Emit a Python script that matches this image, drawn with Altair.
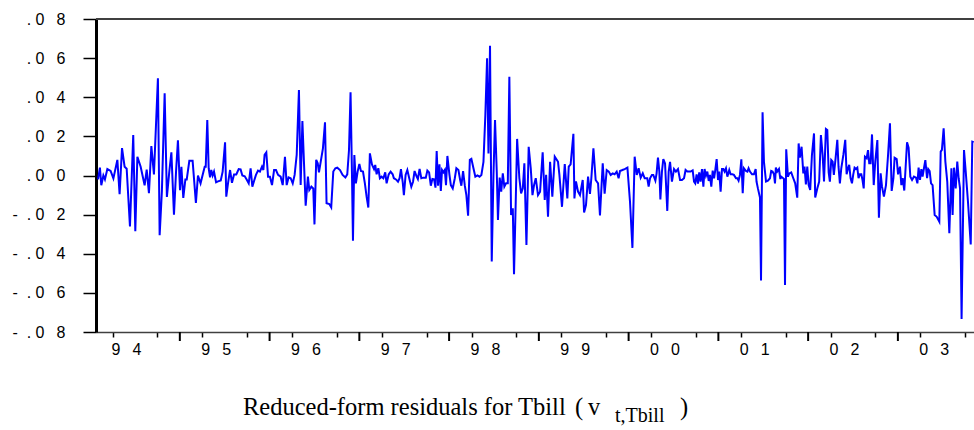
import altair as alt
import pandas as pd

NB = "\u00a0"   # non-breaking space (keeps the wide letter spacing of the original labels)
TH = "\u2009"   # thin space
GAP = NB * 2 + TH

# ---- data: observation position (weeks since first obs) and residual (in units of 0.01) ----
weeks_a = [0.6, 1.7, 2.5, 3.7, 4.6, 6.0, 7.9, 9.5, 11.8, 13.1, 14.5, 16.0, 17.2, 19.1, 21.0,
           22.2, 23.4, 25.3, 27.6, 28.8, 30.1, 31.5, 33.0, 35.3, 36.3, 37.6, 39.2, 40.5, 41.9,
           43.1, 44.6, 45.8, 46.9, 48.1, 48.9, 50.0, 51.2, 52.0, 53.5, 55.4, 57.3, 58.5, 60.0, 62.4]
resid_a = [-0.2, 0.4, -0.5, 0, -0.2, 0.33, 0.23, -0.15, 0.8, -0.95, 1.4, 0.45, 0.35, -2.6, 2.07,
           -2.85, 0.96, 0.45, -0.5, 0.3, -0.9, 1.5, 0.05, 4.97, -3.05, -0.8, 4.2, -1.1, 0.2,
           1.18, -2.0, 0.2, 1.8, -0.75, 0.45, -1.15, -0.2, -0.2, 0.75, 0.75, -1.4, 0, -0.4, 0.45]

weeks_b = [63.0, 63.9, 64.7, 65.5, 66.2, 67.0, 67.8, 69.0, 70.1, 71.7, 72.8, 74.2, 74.9, 75.9, 77.1,
           78.2, 79.4, 80.7, 82.1, 83.2, 84.2, 85.6, 86.7, 87.9, 89.0, 90.0, 91.0, 92.1, 93.3, 94.4,
           95.6, 96.4, 97.1, 98.1, 99.1, 100.2, 101.4, 102.6, 103.7, 104.9, 106.4, 107.6, 108.9,
           109.9, 111.0, 112.2, 113.4, 114.5, 115.7, 117.0, 118.0, 119.0, 119.9, 120.9, 122.2,
           123.0, 124.2, 125.3, 126.0]
resid_b = [0.45, 2.84, 0.37, -0.1, 0.28, 0.0, 0.2, -0.35, -0.3, -0.25, 0.2, 1.7, -1.08, -0.4, 0.28,
           -0.37, 0.05, 0.05, 0.33, 0.31, 0.0, -0.04, -0.2, -0.4, 0.37, -0.57, -0.28, 0.03, 0.25, 0.2,
           0.45, 0.28, 1.05, 1.18, -0.06, -0.06, -0.49, 0.28, 0.28, 0.03, -0.06, -0.49, 0.96,
           -0.49, -0.1, -0.14, -0.4, 0.03, 1.05, 4.37, -0.49, 2.78, 0.7, -1.54, -0.06,
           -0.74, -0.57, -0.66, -2.5]

weeks_c = [127.0, 127.9, 128.6, 129.6, 130.9, 132.1, 133.0, 134.6, 135.7, 136.9, 138.1, 139.2,
           140.8, 142.3, 143.9, 145.0, 146.0, 146.9, 147.7, 148.3, 149.1, 150.0, 151.0, 152.0,
           152.9, 154.1, 155.2, 156.2, 157.2, 158.1, 159.3, 160.5, 161.2, 162.0, 163.0, 163.9,
           164.9, 165.9, 167.0, 167.8, 169.0, 170.1, 171.3, 172.0, 173.2, 174.4, 175.3, 176.1,
           177.1, 177.8, 178.8, 179.8, 180.9, 182.1, 183.1, 184.0, 185.2, 185.9, 186.9, 187.9, 189.0]
resid_c = [0.8, 0.62, 0.16, 0.7, 1.39, 2.72, -1.42, -1.46, -1.63, 0.2, 0.37, 0.4,
           0.28, 0.03, -0.1, 0.06, 1.3, 4.25, 0.2, -3.33, 1.05, -0.4, 0.2, 0.59,
           0.23, 0.2, -0.4, -1.08, -1.64, 1.13, 0.57, 0.33, 0.54, 0.06, 0.37, -0.14,
           -0.06, -0.14, 0.16, -0.4, 0.06, 0.2, 0.06, -0.14, -0.2, -0.32, -0.14, 0.33,
           -0.32, -1.0, 0.03, 0.28, -0.14, -0.57, -0.32, 0.23, -0.06, -0.18, 0.33, -0.14, -0.11]

weeks_d = [190.5, 191.4, 192.4, 193.4, 194.3, 195.3, 196.1, 196.8, 197.6, 198.4, 199.2, 199.9,
           200.7, 201.5, 202.2, 203.0, 204.2, 205.0, 206.1, 207.3, 208.2, 209.4, 210.4, 211.1,
           212.1, 213.1, 214.0, 215.0, 216.0, 216.9, 218.1, 219.2, 220.4, 221.6, 222.7, 223.9,
           225.0, 226.0, 226.8, 227.7, 228.7, 229.7, 230.6, 231.6, 232.3, 233.3, 234.2, 235.1,
           236.0, 237.0, 238.0, 238.9, 239.9, 240.9, 241.6, 242.6, 243.4, 244.7, 245.7, 246.7,
           247.6, 248.8, 250.1, 251.3, 252.3, 253.2]
resid_d = [-0.11, 0.25, 0.16, -0.52, -0.18, -0.2, -0.62, 1.25, -0.52, 0.57, -0.79, 0.28,
           0.16, 0.28, -0.49, 1.0, 0.03, -0.49, -0.66, -0.14, 0.37, 0.28, -0.23, -0.52,
           0.23, -0.52, -1.0, -2.05, 0.8, 0.85, 0.37, -0.06, 0.0, -0.06, 0.03, 0.7,
           3.1, 5.99, 1.13, 6.63, -4.4, 0.03, 2.84, 0.2, -2.27, -0.11, -0.83, 0.11,
           -0.57, -0.4, -0.4, 5.05, -2.02, -1.68, -5.05, -1.34, 1.87, -0.14, -0.91, -0.66,
           0.62, -3.55, 1.47, 0.37, -1.0, -0.49]

weeks_e = [254.2, 255.5, 256.7, 258.2, 259.4, 260.2, 261.3, 262.5, 263.8, 265.2, 267.1, 267.9,
           269.4, 271.0, 272.5, 273.3, 274.4, 276.0, 276.6, 277.5, 278.7, 279.8, 281.4, 282.2,
           283.3, 284.5, 285.6, 286.4, 287.6, 288.9, 290.3, 291.4, 293.0, 294.1, 295.3, 296.5,
           297.6, 298.8, 299.9, 301.1, 302.2, 303.0, 304.4, 305.7, 307.3, 308.8, 310.2, 311.5,
           312.7, 313.8, 315.0, 316.2, 317.3]
resid_e = [-0.14, -1.0, -0.83, 1.18, -1.25, 0.03, -2.11, 0.7, -1.08, 0.96, 0.7, 0.03,
           -1.6, 0.59, -1.17, 0.45, 0.57, 2.13, -1.17, -0.3, -0.83, -1.0, -0.23, -1.89,
           -1.51, -0.06, -0.94, -0.14, 1.39, -0.23, -0.4, -2.04, 0.62, -0.93, 0.28, 0.2,
           0.03, 0.11, 0.06, 0.2, -0.14, 0.23, 0.28, 0.33, 0.4, -1.34, -3.7, 0.96,
           0.03, 0.37, -0.11, 0.11, -0.14]

weeks_f = [318.8, 319.6, 320.4, 321.5, 322.3, 323.5, 324.2, 325.0, 325.8, 326.4, 327.3, 328.1,
           329.1, 330.4, 331.2, 332.0, 333.1, 334.3, 335.4, 336.6, 337.8, 338.9, 340.1, 341.0,
           342.0, 343.0, 343.9, 345.1, 345.9, 346.6, 347.4, 348.2, 348.9, 349.7, 350.5, 351.3,
           352.0, 352.8, 353.6, 354.4, 355.1, 355.9, 356.7, 357.5, 358.2, 359.0, 359.8, 360.5,
           361.3, 362.1, 362.9, 363.6, 364.4, 365.2, 366.3, 367.1, 368.1, 369.0, 370.2, 371.0,
           371.7, 372.5, 373.3, 374.1, 374.8, 376.0, 376.8, 377.5, 378.3, 379.5, 380.6]
resid_f = [-0.14, -0.57, -0.14, 0.03, 0.03, -0.26, 0.11, 0.91, 0.2, -1.22, 0.2, 0.84,
           0.62, -1.81, 0.2, 0.7, -0.31, 0.33, 0.2, 0.33, -0.23, -0.23, -0.14, 0.28,
           0.2, 0.2, 0.2, 0.26, -0.31, -0.4, 0.06, -0.42, 0.16, -0.31, 0.33, -0.57,
           0.33, -0.01, 0.2, -0.28, 0.03, -0.57, 0.25, -0.14, 0.28, 0.84, -0.23, 0.2,
           -0.83, 0.33, 0.33, 0.2, 0.37, -0.06, 0.28, 0.06, 0.06, 0.03, -0.14, -0.14,
           -0.26, 0.03, 0.83, -0.91, 0.37, 0.23, 0.2, 0.37, 0.2, 0.06, 0.06]

weeks_g = [381.6, 382.1, 382.9, 384.1, 384.7, 385.6, 386.4, 387.6, 388.7, 389.9, 390.6, 391.4,
           392.2, 392.8, 393.3, 394.1, 395.1, 395.9, 396.4, 397.2, 398.0, 398.6, 399.3, 400.3,
           401.1, 402.2, 403.4, 404.5, 405.7, 406.5, 407.2, 408.2, 409.2, 409.9, 410.7, 411.5,
           412.3, 413.2, 414.2, 415.4, 416.1, 417.3, 418.4, 419.4, 420.4, 421.2, 422.3, 423.1,
           423.9, 424.6, 425.4, 426.2, 426.9, 427.9, 428.9, 429.6, 430.4, 431.2, 432.4, 433.5,
           434.3, 435.1, 435.8, 436.6, 437.4, 438.1, 438.9, 439.7, 440.5, 441.2, 442.0, 442.8, 443.5]
resid_g = [0.33, -0.31, -0.66, -1.13, -5.37, 3.23, 0.7, -0.31, -0.26, -0.14, 0.23, 0.2,
           0.06, -0.4, 0.4, 0.2, 0.33, -0.18, -0.06, -0.11, -0.18, -5.6, 1.34, -0.06,
           0.11, 0.16, -0.14, -0.4, -1.13, 1.64, 0.91, 1.47, 0.11, 0.45, -0.45, 0.45,
           -0.49, -0.74, 1.05, 2.15, -1.13, -0.66, -0.31, 2.07, 1.05, -0.31, 2.38, 2.33,
           0.16, -0.31, 0.79, 0.71, 0.03, 0.88, 1.82, 0.45, -0.4, 0.37, 1.05, 1.82,
           0.06, 0.37, 0.54, -0.14, -0.4, 0.03, 0.4, 0.33, 0.4, -0.14, 0.06, 0.06, -0.23]

weeks_h = [444.2, 444.9, 445.9, 446.7, 447.4, 448.2, 449.0, 450.0, 450.9, 452.1, 453.0, 454.0,
           454.8, 455.9, 457.1, 458.3, 459.4, 460.4, 461.4, 462.1, 463.3, 464.1, 465.2, 466.0,
           466.8, 467.7, 468.5, 469.3, 470.2, 471.2, 472.2, 473.3, 474.5, 475.3, 476.0, 476.8,
           477.6, 478.3, 479.1, 479.9, 480.9, 481.6, 482.4, 483.2, 484.1, 485.3, 486.5, 488.0,
           488.8, 489.5, 490.5, 491.5, 492.6, 493.8, 495.0, 495.7, 496.5, 497.5, 498.4, 499.2,
           500.0, 500.9, 502.3, 503.3, 504.6, 506.2, 507.1, 507.9]
resid_h = [-0.66, 0.96, 0.88, 1.3, 0.62, 0.62, 2.1, -0.49, 0.71, 1.81, -2.16, 0.11,
           -0.57, -1.08, -0.49, 1.05, 2.67, -0.79, -0.14, 0.91, 0.84, 0.06, 0.45, -0.49,
           -0.14, -0.77, 0.45, 1.7, 1.42, -0.06, -0.23, -0.06, -0.11, -0.4, 0.4, -0.23,
           0.33, -0.06, 0.37, 0.79, -0.14, 0.33, 0.23, -0.4, -0.49, -2.02, -2.11, -2.36,
           1.22, 1.31, 2.41, 0.71, -0.31, -2.95, 0.37, -2.02, 0.4, -0.66, 0.71, -0.14,
           -0.66, -7.33, 1.3, 0.2, -1.34, -3.52, 1.73, 1.7]

weeks = weeks_a + weeks_b + weeks_c + weeks_d + weeks_e + weeks_f + weeks_g + weeks_h
resid = resid_a + resid_b + resid_c + resid_d + resid_e + resid_f + resid_g + resid_h
n = min(len(weeks), len(resid))

START_YEAR = 1993.827   # date of the first weekly observation, as a decimal year
df = pd.DataFrame({
    "year": [START_YEAR + w / 52.0 for w in weeks[:n]],
    "resid": [r / 100.0 for r in resid[:n]],
})

years = list(range(1994, 2004))
year_labels = [f"{str(y)[2]}{GAP}{str(y)[3]}" for y in years]
quarter_ticks = [1994 + 0.25 * k for k in range(39)]
major_ticks = [y + 0.75 for y in years[:-1]]
y_ticks = [-0.08, -0.06, -0.04, -0.02, 0.0, 0.02, 0.04, 0.06, 0.08]

W, H = 878, 313
X_DOMAIN = [1993.816, 2003.598]
xscale = alt.Scale(domain=X_DOMAIN, nice=False, zero=False)
yscale = alt.Scale(domain=[-0.08, 0.08], nice=False, zero=False)

y_label_expr = (
    f"(datum.value < 0 ? '-{NB}{NB}' : '') + '.{NB}0{GAP}' + "
    "format(abs(datum.value) * 100, '.0f')"
)

line = alt.Chart(df).mark_line(color="#0000FF", strokeWidth=2).encode(
    x=alt.X("year:Q", scale=xscale,
            axis=alt.Axis(values=quarter_ticks, labels=False, ticks=True, tickSize=5,
                          tickWidth=1.5, tickColor="#000000", domain=True,
                          domainColor="#404040", domainWidth=1.5, grid=False, title=None)),
    y=alt.Y("resid:Q", scale=yscale,
            axis=alt.Axis(values=y_ticks, labelExpr=y_label_expr, labelFont="Liberation Sans",
                          labelFontSize=16, labelColor="#000000", labelPadding=18,
                          tickSize=13, tickWidth=1.5, tickColor="#000000",
                          domainColor="#000000", domainWidth=3, grid=False, title=None)),
)

majors = alt.Chart(pd.DataFrame({"year": major_ticks})).mark_rule(
    color="#000000", strokeWidth=2
).encode(
    x=alt.X("year:Q"),
    y=alt.value(H), y2=alt.value(H + 9),
)

year_text = alt.Chart(pd.DataFrame({"year": years, "label": year_labels})).mark_text(
    align="left", baseline="alphabetic", font="Liberation Sans", fontSize=16,
    color="#000000", dx=-1
).encode(
    x=alt.X("year:Q"),
    y=alt.value(H + 23),
    text="label:N",
)

top_border = alt.Chart(alt.Data(values=[{}])).mark_rule(
    color="#404040", strokeWidth=2
).encode(x=alt.value(0), x2=alt.value(W), y=alt.value(0))

dummy = alt.Data(values=[{}])
cap_font = "Liberation Serif"
cap_main = alt.Chart(dummy).mark_text(
    align="left", baseline="alphabetic", font=cap_font, fontSize=24.5, color="#000000"
).encode(x=alt.value(147), y=alt.value(396), text=alt.value("Reduced-form residuals for Tbill"))
cap_lp = alt.Chart(dummy).mark_text(
    align="left", baseline="alphabetic", font=cap_font, fontSize=24.5, color="#000000"
).encode(x=alt.value(479), y=alt.value(396), text=alt.value("("))
cap_v = alt.Chart(dummy).mark_text(
    align="left", baseline="alphabetic", font=cap_font, fontSize=24.5, color="#000000"
).encode(x=alt.value(492), y=alt.value(396), text=alt.value("v"))
cap_sub = alt.Chart(dummy).mark_text(
    align="left", baseline="alphabetic", font=cap_font, fontSize=20, color="#000000"
).encode(x=alt.value(519), y=alt.value(403), text=alt.value("t,Tbill"))
cap_rp = alt.Chart(dummy).mark_text(
    align="left", baseline="alphabetic", font=cap_font, fontSize=24.5, color="#000000"
).encode(x=alt.value(584), y=alt.value(396), text=alt.value(")"))

chart = alt.layer(
    line, majors, year_text, top_border, cap_main, cap_lp, cap_v, cap_sub, cap_rp
).properties(
    width=W, height=H,
    padding={"left": 96, "top": 19, "right": 0, "bottom": 98},
    autosize=alt.AutoSizeParams(type="none"),
    background="#FFFFFF",
).configure_view(stroke=None)

chart.save("out.html", embed_options={"renderer": "svg", "actions": False})
